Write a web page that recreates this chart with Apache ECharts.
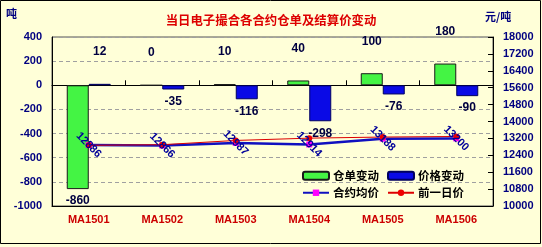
<!DOCTYPE html>
<html><head><meta charset="utf-8">
<script src="https://cdn.jsdelivr.net/npm/echarts@6/dist/echarts.min.js"></script>
<style>html,body{margin:0;padding:0;background:#fff}#c{width:542px;height:247px}</style>
</head><body><div id="c"></div>
<script>
var categories = ['MA1501','MA1502','MA1503','MA1504','MA1505','MA1506'];
var warrantChange = [-860, 0, 10, 40, 100, 180];
var priceChange = [12, -35, -116, -298, -76, -90];
var avgPrice = [12886, 12866, 12987, 12914, 13188, 13200];
var prevPrice = [12874, 12901, 13103, 13212, 13264, 13290];

var FONT = 'Liberation Sans';
var CJK = 'Noto Sans CJK SC';
var NAVY = '#000080';

function barData(vals){
  return vals.map(function(v){
    return {value: v, label: v >= 0 ? {position:'top', distance: 26} : {position:'bottom', distance: 6}};
  });
}
function plain(v){ return String(v); }

var chart = echarts.init(document.getElementById('c'), null, {renderer:'canvas'});
chart.setOption({
  backgroundColor: '#FFFFD8',
  animation: false,
  title: {
    text: '当日电子撮合各合约仓单及结算价变动',
    left: 'center', top: 9,
    textStyle: {color:'#DD0000', fontSize: 12.4, fontWeight:'bold', fontFamily: CJK}
  },
  graphic: [
    {type:'rect', shape:{x:0.5,y:0.5,width:540,height:243}, style:{fill:'none', stroke:'#000', lineWidth:1}, silent:true},
    {type:'text', left: 6, top: 8, style:{text:'吨', fill: NAVY, font:'bold 11px "Noto Sans CJK SC"'}},
    {type:'text', left: 485, top: 11, style:{text:'元/吨', fill: NAVY, font:'bold 11px "Noto Sans CJK SC"'}}
  ],
  legend: [
    {data:['仓单变动','价格变动'], left: 297, top: 165, itemWidth: 26, itemHeight: 8, itemGap: 8,
     textStyle:{color:'#000', fontSize:11.5, fontWeight:'bold', fontFamily: CJK, padding:[0,0,0,-1]}},
    {data:['合约均价','前一日价'], left: 297, top: 182, itemWidth: 26, itemHeight: 8, itemGap: 8,
     textStyle:{color:'#000', fontSize:11.5, fontWeight:'bold', fontFamily: CJK, padding:[0,0,0,-1]}}
  ],
  grid: {left: 52, right: 49, top: 37, bottom: 41, show: true, borderColor: '#555', borderWidth: 1, backgroundColor: 'transparent'},
  xAxis: [
    {type:'category', data: categories, position:'bottom', boundaryGap: true,
     axisLine:{onZero:false, lineStyle:{color:'#000'}}, axisTick:{show:false},
     axisLabel:{color:'#CC0000', fontWeight:'bold', fontSize:11, fontFamily: FONT, margin: 8}},
    {type:'category', data: categories, position:'bottom', boundaryGap: true,
     axisLine:{onZero:true, lineStyle:{color:'#000'}}, axisTick:{show:true, inside:true, length:5, lineStyle:{color:'#000'}},
     axisLabel:{show:false}}
  ],
  yAxis: [
    {type:'value', min:-1000, max:400, interval:200,
     axisLine:{show:true, lineStyle:{color:'#000'}}, axisTick:{show:false},
     axisLabel:{color: NAVY, fontWeight:'bold', fontSize:11, fontFamily: FONT, margin: 10, formatter: plain},
     splitLine:{show:true, lineStyle:{color:'#A0A0A0', type:[4,3]}}},
    {type:'value', min:10000, max:18000, interval:800, position:'right',
     axisLine:{show:true, lineStyle:{color:'#000'}}, axisTick:{show:true, inside:true, length:5, lineStyle:{color:'#000'}},
     axisLabel:{color: NAVY, fontWeight:'bold', fontSize:11, fontFamily: FONT, margin: 10, formatter: plain},
     splitLine:{show:false}}
  ],
  series: [
    {name:'仓单变动', type:'bar', xAxisIndex:0, yAxisIndex:0, data: barData(warrantChange), barWidth: 22, barGap: '0%',
     itemStyle:{color:'#44F444', borderColor:'#1a1a1a', borderWidth:1},
     label:{show:true, color:'#000040', fontWeight:'bold', fontSize:12, fontFamily: FONT}},
    {name:'价格变动', type:'bar', xAxisIndex:0, yAxisIndex:0, data: barData(priceChange), barWidth: 22, barGap: '0%',
     itemStyle:{color:'#0A0AE6', borderColor:'#000060', borderWidth:1},
     label:{show:true, color:'#000040', fontWeight:'bold', fontSize:12, fontFamily: FONT}},
    {name:'合约均价', type:'line', xAxisIndex:0, yAxisIndex:1, data: avgPrice,
     lineStyle:{color:'#1010C0', width:2.5}, itemStyle:{color:'#FF00FF'}, symbol:'rect', symbolSize:6, showSymbol:true,
     label:{show:true, position:'inside', rotate:-45, color:'#000099', fontWeight:'bold', fontSize:11, fontFamily: FONT, formatter: function(p){ return String(p.value); }}},
    {name:'前一日价', type:'line', xAxisIndex:0, yAxisIndex:1, data: prevPrice,
     lineStyle:{color:'#DD0000', width:1}, itemStyle:{color:'#EE0000'}, symbol:'circle', symbolSize:6}
  ]
});
</script></body></html>
